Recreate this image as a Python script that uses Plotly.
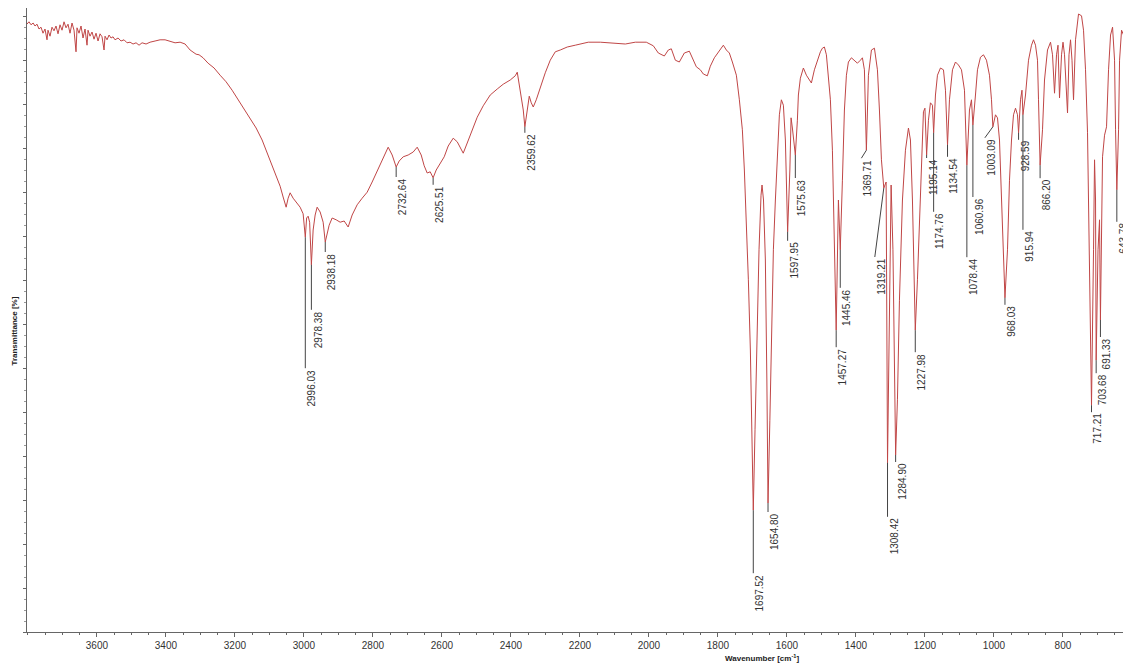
import plotly.graph_objects as go

# (wavenumber in cm-1, transmittance in %)
band_high = [
    (3803, 101.3), (3797, 101.7), (3791, 101.2), (3785, 101.5), (3779.5, 101.0), (3773.7, 101.3),
    (3767.9, 100.5), (3762.1, 100.8), (3756.3, 99.8), (3750.5, 100.5), (3744.7, 98.7), (3741.8, 100.3),
    (3736, 99.3), (3730.2, 100.8), (3724.4, 100.2), (3718.6, 101.0), (3712.8, 99.7), (3707, 101.2),
    (3701.2, 100.3), (3695.4, 101.7), (3689.6, 100.7), (3683.8, 101.3), (3678, 99.8), (3672.2, 101.5),
    (3666.4, 100.3), (3660.6, 96.7), (3657.7, 100.7), (3651.9, 99.8), (3646.1, 101.0), (3640.3, 99.0),
    (3634.5, 100.5), (3628.7, 97.8), (3625.8, 100.3), (3620, 99.3), (3614.2, 100.0), (3608.4, 98.8),
    (3602.6, 99.8), (3596.8, 98.5), (3591, 99.7), (3585.2, 99.2), (3579.4, 97.0), (3576.5, 99.3),
    (3570.7, 98.7), (3564.9, 99.5), (3559.1, 99.0), (3553.3, 99.2), (3547.5, 98.7), (3538.8, 99.0),
    (3530.1, 98.5), (3521.4, 98.7), (3512.7, 98.2), (3504, 98.3), (3495.3, 98.0), (3486.6, 98.2),
    (3477.9, 97.8), (3469.2, 98.2), (3457.6, 98.0), (3446, 98.3), (3431.5, 98.5), (3417, 98.7),
    (3402.5, 98.7), (3388, 98.5), (3373.5, 98.2), (3359, 98.3), (3344.5, 98.0), (3330, 97.0),
    (3321.3, 96.7), (3312.6, 96.3), (3303.9, 96.2), (3292.3, 95.7), (3277.8, 94.8), (3260.4, 94.0),
    (3243, 92.8), (3225.6, 91.7), (3208.2, 90.3), (3190.8, 88.7), (3173.4, 87.0), (3156, 85.5),
    (3138.6, 84.0), (3121.2, 82.0), (3109.6, 80.3), (3098, 78.7), (3083.5, 76.7), (3069, 74.3),
    (3060.3, 72.5), (3051.6, 70.8), (3045.8, 72.3), (3040, 73.2), (3031.3, 72.3), (3019.7, 71.5),
    (3011, 70.8), (3002.3, 69.7), (2996.03, 65.8), (2992.2, 69.0), (2987.8, 69.3), (2983.5, 68.3),
    (2978.38, 61.2), (2973.3, 67.0), (2967.5, 69.5), (2961.7, 70.8), (2953, 70.0), (2944.3, 68.3),
    (2938.18, 65.0), (2926.9, 67.8), (2918.2, 69.0), (2906.6, 68.7), (2895, 68.3), (2883.4, 68.5),
    (2871.8, 67.5), (2860.2, 69.5), (2845.7, 71.2), (2831.2, 72.3), (2816.7, 73.3), (2802.2, 75.0),
    (2787.7, 76.8), (2773.2, 78.7), (2755.8, 80.8), (2744.2, 79.5), (2732.64, 77.5), (2723.9, 78.5),
    (2712.3, 79.2), (2697.8, 79.5), (2683.3, 80.0), (2671.7, 80.8), (2660.1, 79.5), (2651.4, 77.7),
    (2642.7, 76.5), (2634, 76.7), (2625.51, 75.7), (2616.6, 77.0), (2605, 78.2), (2593.4, 79.2),
    (2581.8, 81.0), (2567.3, 82.3), (2555.7, 81.7), (2547, 80.7), (2538.3, 79.8), (2526.7, 81.5),
    (2512.2, 83.7), (2497.7, 85.8), (2480.3, 87.7), (2460, 89.5), (2439.7, 90.5), (2422.3, 91.3),
    (2402, 92.0), (2387.5, 92.7), (2381.7, 93.3), (2373, 89.8), (2364.3, 87.0), (2359.62, 84.2),
    (2352.7, 87.0), (2346.9, 89.3), (2341.1, 88.2), (2335.3, 87.5), (2326.6, 88.7), (2315, 90.8),
    (2300.5, 93.2), (2286, 95.3), (2271.5, 96.7), (2257, 97.0),
]

band_mid = [
    (2236.7, 97.5), (2213.5, 97.8), (2175.8, 98.3), (2141, 98.3), (2112, 98.2), (2068.5, 98.0),
    (2039.5, 98.3), (2007.6, 98.3), (1987.3, 97.7), (1972.8, 96.5), (1955.4, 96.0), (1943.8, 97.0),
    (1935.1, 97.2), (1923.5, 95.3), (1911.9, 95.0), (1897.4, 96.5), (1882.9, 96.8), (1871.3, 95.3),
    (1862.6, 94.2), (1851, 93.7), (1842.3, 93.0), (1830.7, 92.7), (1822, 94.3), (1810.4, 95.7),
    (1798.8, 96.7), (1790.1, 97.5), (1784.3, 97.8), (1775.6, 97.0), (1766.9, 96.5), (1758.2, 95.0),
    (1746.6, 92.8), (1737.9, 88.7), (1729.2, 83.7), (1723.4, 77.0), (1717.6, 68.7), (1711.8, 58.7),
    (1706, 47.0), (1701.7, 35.3), (1697.52, 20.3), (1692.5, 33.7), (1686.7, 48.7), (1680.9, 63.7),
    (1675.1, 72.8), (1672.2, 74.5), (1667.9, 72.0), (1662.5, 62.0), (1658.2, 42.0), (1654.80, 21.5),
    (1649.5, 35.3), (1645.1, 48.7), (1639.3, 63.7), (1633.5, 72.0), (1627.7, 80.3), (1621.9, 86.2),
    (1616.1, 88.7), (1610.3, 87.8), (1604.5, 82.0), (1601.6, 73.7), (1597.95, 66.7), (1591.5, 77.0),
    (1588.0, 85.7), (1584.2, 84.0), (1579.9, 82.0), (1575.63, 79.5), (1569.7, 85.3), (1566.8, 89.5),
    (1561, 92.3), (1552.3, 94.0), (1543.6, 92.8), (1534.9, 92.0), (1529.1, 91.5), (1520.4, 93.7),
    (1511.7, 95.3), (1503, 96.7), (1497.2, 97.3), (1491.4, 97.5), (1485.6, 96.2), (1479.8, 92.8),
    (1474, 88.7), (1468.2, 80.3), (1462.4, 65.3), (1457.27, 50.3), (1450.8, 72.0), (1445.46, 63.7),
    (1439.2, 75.3), (1433.4, 87.0), (1427.6, 92.8), (1421.8, 95.0), (1413.1, 95.7), (1404.4, 95.3),
]

band_finger = [
    (1395.7, 94.8), (1387, 95.3), (1381.2, 95.7), (1375.4, 93.7), (1369.71, 80.3), (1363.8, 92.8),
    (1355.1, 97.0), (1346.4, 97.3), (1337.7, 93.7), (1331.9, 87.0), (1326.1, 78.7), (1319.21, 74.0),
    (1312.5, 75.0), (1308.42, 28.2), (1302.9, 55.3), (1298.0, 74.5), (1292.7, 63.7), (1286.9, 38.7),
    (1284.90, 29.5), (1279.7, 38.7), (1273.9, 55.3), (1265.2, 72.0), (1256.5, 80.3), (1247.8, 84.0),
    (1242, 82.0), (1236.2, 72.0), (1230.4, 57.0), (1227.98, 50.3), (1221.7, 58.7), (1215.9, 68.7),
    (1210.1, 80.3), (1204.3, 86.7), (1200, 87.3), (1195.14, 79.5), (1189.8, 85.3), (1184, 88.2),
    (1178.2, 87.8), (1174.76, 83.2), (1169.5, 89.5), (1163.7, 92.8), (1155, 94.0), (1146.3, 93.7),
    (1140.5, 90.3), (1134.54, 81.2), (1128.9, 88.7), (1120.2, 93.7), (1111.5, 95.0), (1102.8, 94.5),
    (1094.1, 93.7), (1085.4, 90.3), (1078.44, 77.8), (1070.9, 87.0), (1065.1, 88.7), (1060.96, 84.5),
    (1053.5, 89.5), (1047.7, 93.7), (1039, 95.8), (1030.3, 96.2), (1021.6, 95.3), (1012.9, 92.8),
    (1007.1, 88.7), (1003.09, 84.2), (995.5, 86.2), (989.7, 85.7), (983.9, 82.0), (978.1, 72.0),
    (972.3, 62.0), (968.03, 55.7), (960.7, 63.7), (954.9, 75.3), (949.1, 82.0), (943.3, 86.2),
    (937.5, 87.3), (931.7, 86.2), (928.59, 83.2), (923, 88.7), (918.7, 90.3), (915.94, 86.2),
    (908.5, 89.5), (899.8, 95.3), (891.1, 97.8), (885.3, 98.7), (879.5, 97.8), (873.7, 95.3),
    (870.8, 88.7), (866.20, 77.8), (859.2, 83.7), (853.4, 92.0), (844.7, 97.0), (836, 98.3),
    (830.2, 96.2), (824.4, 89.8), (818.6, 96.2), (814.3, 97.8), (809.9, 89.0), (804.1, 96.2),
    (799.8, 98.3), (795.4, 96.2), (786.7, 86.5), (782.4, 96.2), (778, 98.7), (773.7, 95.3),
    (769.3, 88.7), (763.5, 98.7), (754.8, 103.0), (746.1, 102.7), (740.3, 100.3), (734.5, 93.7),
    (728.7, 83.2), (722.9, 63.7), (717.21, 37.8), (711.3, 63.7), (708.4, 78.7), (705.5, 72.0),
    (703.68, 45.3), (698.3, 63.7), (693.9, 68.7), (691.33, 52.0), (686.7, 68.7), (685.2, 79.2),
    (679.4, 82.8), (673.6, 84.2), (667.8, 93.7), (662, 99.5), (656.2, 100.8), (650.4, 95.3),
    (647.5, 83.7), (643.78, 73.7), (638.8, 83.7), (635.9, 95.3), (630.1, 100.3), (624.3, 99.5),
]

# picked band positions (cm-1)
peak_labels = [
    2996.03, 2978.38, 2938.18, 2732.64, 2625.51, 2359.62, 1697.52, 1654.80, 1597.95, 1575.63,
    1457.27, 1445.46, 1369.71, 1319.21, 1308.42, 1284.90, 1227.98, 1195.14, 1174.76, 1134.54,
    1078.44, 1060.96, 1003.09, 968.03, 928.59, 915.94, 866.20, 717.21, 703.68, 691.33, 643.78,
]
# leader length below each band (px) and sideways nudge of its label (px)
label_drop = [
    131, 45, 10, 10, 7, 6, 63, 9, 9, 23,
    17, 38, 8, 69, 54, 7, 22, 3, 79, 12,
    92, 72, 11, 7, 7, 115, 13, 7, 13, 17, 32,
]
label_shift = [
    0, 0, 0, 0, 0, 0, 0, 0, 0, 0,
    0, 0, -5, -9, 0, 0, 0, 0, 0, 0,
    0, 0, -8, 0, 0, 0, 0, 0, 0, 0, 0,
]

tick_values = [3600, 3400, 3200, 3000, 2800, 2600, 2400, 2200, 2000, 1800, 1600, 1400, 1200, 1000, 800]

spectrum = band_high + band_mid + band_finger
wavenumber = [p[0] for p in spectrum]
transmittance = [p[1] for p in spectrum]
value_at = dict(spectrum)

LINE_RED = "#c04646"
AXIS_GREY = "#666666"
TEXT_GREY = "#333333"
FONT = "Liberation Sans, Arial, sans-serif"

fig = go.Figure()
fig.add_trace(go.Scatter(
    x=wavenumber, y=transmittance, mode="lines",
    line=dict(color=LINE_RED, width=1),
    hoverinfo="skip", showlegend=False,
))

# rotated labels: anchors act in the text's own frame, so "right" is the
# upper end of the vertical text and "top" its left side on screen
for lab, drop, shift in zip(peak_labels, label_drop, label_shift):
    fig.add_annotation(
        x=lab, y=value_at[lab], text=f"{lab:.2f}",
        textangle=-90, showarrow=True, arrowhead=0, arrowwidth=1,
        arrowcolor="#444444", ax=shift, ay=drop, standoff=0, startstandoff=0,
        xanchor="right", yanchor="top", borderpad=0,
        font=dict(family=FONT, size=10, color=TEXT_GREY),
    )

fig.add_annotation(
    text="<b>Wavenumber [cm<sup>-1</sup>]</b>", xref="paper", yref="paper",
    x=0.6706, y=-0.0417, xanchor="center", yanchor="middle", showarrow=False,
    font=dict(family=FONT, size=8, color="#222222"),
)
fig.add_annotation(
    text="<b>Transmittance [%]</b>", xref="paper", yref="paper",
    x=-0.011, y=0.483, xanchor="center", yanchor="middle", showarrow=False,
    textangle=-90, font=dict(family=FONT, size=8, color="#222222"),
)

fig.update_layout(
    width=1123, height=664,
    margin=dict(l=27, r=0, t=8, b=32),
    paper_bgcolor="white", plot_bgcolor="white",
    xaxis=dict(
        range=[3802.7, 625.9], tickmode="array", tickvals=tick_values,
        ticktext=[str(v) for v in tick_values],
        ticks="outside", ticklen=4, tickcolor=AXIS_GREY,
        showline=True, linecolor=AXIS_GREY, linewidth=1,
        showgrid=False, zeroline=False,
        tickfont=dict(family=FONT, size=10, color=TEXT_GREY),
        minor=dict(ticks="outside", ticklen=2, dtick=50, tick0=800, tickcolor=AXIS_GREY, showgrid=False),
    ),
    yaxis=dict(
        range=[0, 104], showticklabels=False,
        ticks="outside", ticklen=3, tickcolor=AXIS_GREY, tick0=0, dtick=7.33,
        showline=True, linecolor=AXIS_GREY, linewidth=1,
        showgrid=False, zeroline=False,
        minor=dict(ticks="outside", ticklen=2, dtick=1.8325, tick0=0, tickcolor="#999999", showgrid=False),
    ),
)

fig.write_html("out.html", config={"displayModeBar": False})
